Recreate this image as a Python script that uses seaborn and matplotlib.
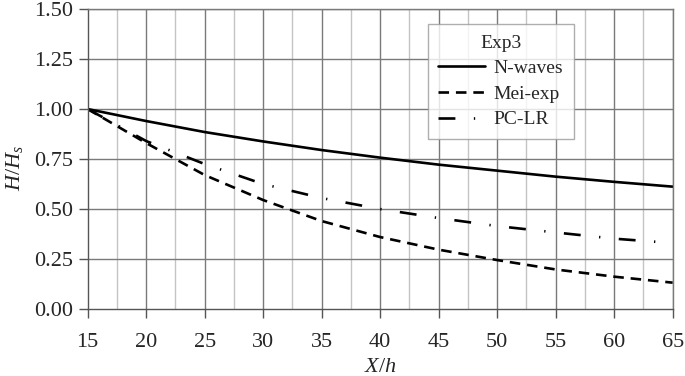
import numpy as np
import pandas as pd
import matplotlib.pyplot as plt
import seaborn as sns

# Data
x_h = [15, 20, 25, 30, 35, 40, 45, 50, 55, 60, 65]
n_waves = [1.00, 0.940, 0.885, 0.838, 0.795, 0.757, 0.722, 0.692, 0.662, 0.636, 0.612]
mei_exp = [1.00, 0.830, 0.670, 0.545, 0.440, 0.360, 0.297, 0.245, 0.198, 0.162, 0.132]
pc_lr = [1.00, 0.840, 0.725, 0.625, 0.555, 0.500, 0.455, 0.415, 0.383, 0.352, 0.330]
series_names = ['N-waves', 'Mei-exp', 'PC-LR']

sns.set_style("white")
plt.rcParams['font.family'] = ['Liberation Serif', 'DejaVu Serif']
plt.rcParams['mathtext.fontset'] = 'custom'
plt.rcParams['mathtext.it'] = 'Liberation Serif:italic'
plt.rcParams['mathtext.rm'] = 'Liberation Serif'

df = pd.DataFrame({
    'X/h': x_h * 3,
    'H/Hs': n_waves + mei_exp + pc_lr,
    'series': [s for s in series_names for _ in x_h],
})

fig = plt.figure(figsize=(6.85, 3.76), dpi=100)
ax = fig.add_axes([0.128, 0.178, 0.854, 0.798])

# Grid: light minor verticals, darker majors
for xv in np.arange(17.5, 65, 5):
    ax.axvline(xv, color='#c4c4c4', lw=1.0, zorder=0)
for xv in np.arange(20, 66, 5):
    ax.axvline(xv, color='#7a7a7a', lw=1.0, zorder=0)
for yv in np.arange(0.25, 1.51, 0.25):
    ax.axhline(yv, color='#7a7a7a', lw=1.0, zorder=0)

lw = 1.9
dashes = {'N-waves': '', 'Mei-exp': (4.0, 2.6), 'PC-LR': (6.4, 7.0, 0.5, 7.0)}
sns.lineplot(data=df, x='X/h', y='H/Hs', style='series', dashes=dashes,
             color='black', lw=lw, ax=ax, legend=False)

handles = [plt.Line2D([], [], color='black', lw=lw),
           plt.Line2D([], [], color='black', lw=lw, dashes=dashes['Mei-exp']),
           plt.Line2D([], [], color='black', lw=lw, dashes=dashes['PC-LR'])]
leg = ax.legend(handles, series_names, title='Exp3', loc='upper left',
                bbox_to_anchor=(0.581, 0.95), borderaxespad=0,
                fontsize=14, title_fontsize=14,
                frameon=True, fancybox=False, handlelength=2.4, borderpad=0.55,
                labelspacing=0.41, handletextpad=0.45)
leg.get_frame().set_edgecolor('#9a9a9a')
leg.get_frame().set_linewidth(1.0)

ax.set_xlim(15, 65)
ax.set_ylim(0, 1.5)
ax.set_xticks(np.arange(15, 66, 5))
ax.set_yticks(np.arange(0, 1.51, 0.25))
ax.set_yticklabels([f'{v:.2f}' for v in np.arange(0, 1.51, 0.25)])
ax.tick_params(axis='both', labelsize=16, direction='out', length=6.5,
               width=1.0, color='#555555', bottom=True, left=True)
ax.tick_params(axis='x', pad=11)
ax.tick_params(axis='y', pad=4)
ax.set_xlabel('$X/h$', fontsize=16)
ax.set_ylabel('$H/H_s$', fontsize=16)
ax.xaxis.set_label_coords(0.5, -0.163)
ax.yaxis.set_label_coords(-0.108, 0.47)

for side in ['top', 'right']:
    ax.spines[side].set_color('#7a7a7a')
    ax.spines[side].set_linewidth(1.0)
for side in ['left', 'bottom']:
    ax.spines[side].set_color('#555555')
    ax.spines[side].set_linewidth(1.0)

fig.savefig('out.png', dpi=100)
